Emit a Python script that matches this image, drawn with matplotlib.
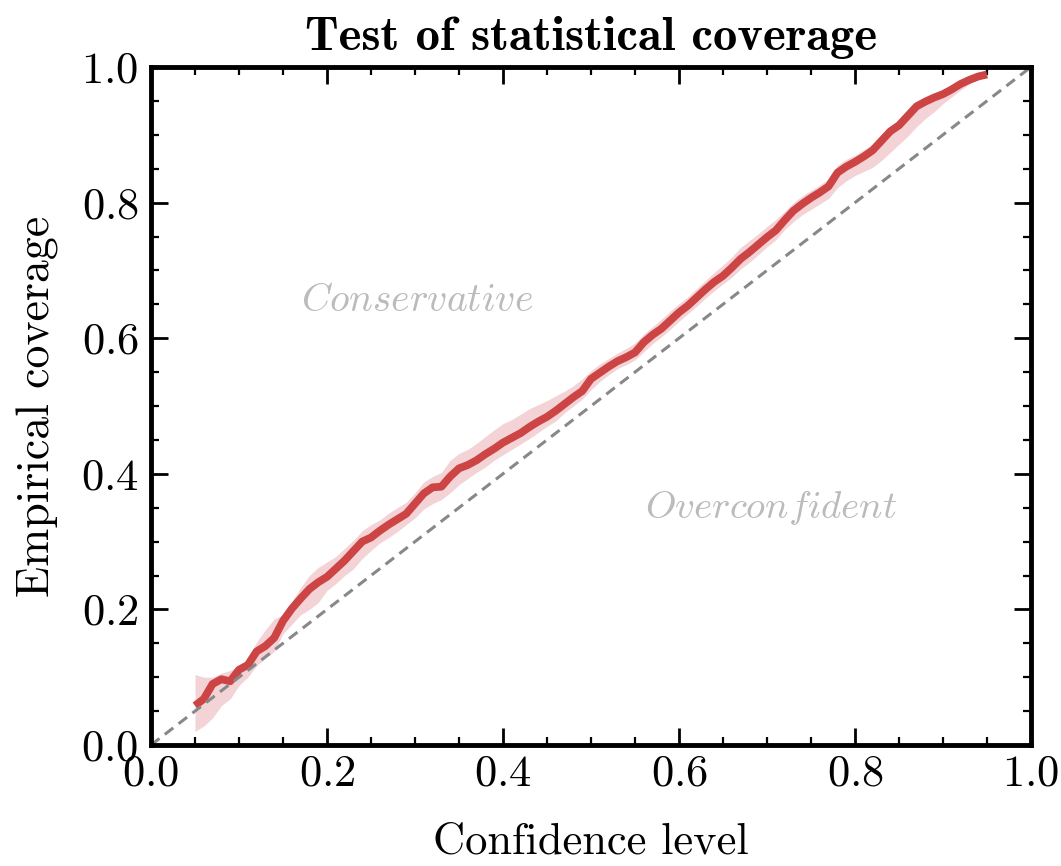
import numpy as np
import matplotlib
matplotlib.use("Agg")
import matplotlib.pyplot as plt
from matplotlib.ticker import MultipleLocator

# ---- data ----
confidence = np.round(np.arange(0.05, 0.951, 0.01), 2)
coverage_mean = [
    0.058, 0.068, 0.090, 0.097, 0.094, 0.111, 0.118, 0.138, 0.146, 0.158,
    0.183, 0.201, 0.216, 0.230, 0.240, 0.248, 0.260, 0.272, 0.286, 0.300,
    0.306, 0.316, 0.325, 0.333, 0.341, 0.356, 0.371, 0.380, 0.381, 0.396,
    0.408, 0.413, 0.420, 0.429, 0.437, 0.446, 0.453, 0.460, 0.469, 0.477,
    0.484, 0.493, 0.503, 0.513, 0.522, 0.540, 0.549, 0.558, 0.566, 0.572,
    0.579, 0.594, 0.605, 0.614, 0.626, 0.638, 0.648, 0.660, 0.672, 0.683,
    0.692, 0.704, 0.717, 0.727, 0.738, 0.749, 0.759, 0.774, 0.788, 0.798,
    0.807, 0.815, 0.824, 0.844, 0.853, 0.860, 0.868, 0.877, 0.891, 0.905,
    0.914, 0.928, 0.942, 0.949, 0.955, 0.960, 0.967, 0.975, 0.981, 0.986,
    0.989,
]
coverage_lower = [
    0.020, 0.028, 0.040, 0.058, 0.068, 0.088, 0.100, 0.117, 0.128, 0.138,
    0.164, 0.178, 0.192, 0.200, 0.210, 0.228, 0.238, 0.250, 0.260, 0.275,
    0.287, 0.298, 0.306, 0.315, 0.325, 0.335, 0.348, 0.356, 0.362, 0.372,
    0.384, 0.393, 0.402, 0.410, 0.420, 0.428, 0.436, 0.444, 0.452, 0.461,
    0.470, 0.478, 0.490, 0.500, 0.510, 0.524, 0.536, 0.546, 0.555, 0.561,
    0.568, 0.580, 0.592, 0.602, 0.613, 0.625, 0.636, 0.647, 0.659, 0.670,
    0.680, 0.690, 0.702, 0.712, 0.723, 0.735, 0.745, 0.760, 0.772, 0.782,
    0.790, 0.798, 0.806, 0.822, 0.832, 0.840, 0.846, 0.852, 0.862, 0.874,
    0.886, 0.898, 0.912, 0.924, 0.934, 0.946, 0.956, 0.966, 0.975, 0.982,
    0.987,
]
coverage_upper = [
    0.104, 0.100, 0.100, 0.106, 0.110, 0.116, 0.128, 0.152, 0.170, 0.186,
    0.192, 0.212, 0.232, 0.250, 0.262, 0.270, 0.278, 0.290, 0.302, 0.316,
    0.325, 0.332, 0.342, 0.350, 0.358, 0.372, 0.388, 0.396, 0.402, 0.420,
    0.430, 0.436, 0.445, 0.455, 0.465, 0.474, 0.480, 0.488, 0.496, 0.502,
    0.508, 0.515, 0.522, 0.530, 0.540, 0.552, 0.562, 0.570, 0.578, 0.585,
    0.593, 0.606, 0.617, 0.628, 0.640, 0.651, 0.661, 0.673, 0.685, 0.697,
    0.708, 0.720, 0.734, 0.744, 0.754, 0.765, 0.775, 0.787, 0.800, 0.810,
    0.818, 0.826, 0.835, 0.855, 0.864, 0.870, 0.878, 0.886, 0.898, 0.912,
    0.920, 0.934, 0.946, 0.953, 0.959, 0.964, 0.971, 0.978, 0.984, 0.988,
    0.991,
]
diag = [0.0, 1.0]

# ---- style ----
plt.rcParams.update({
    "font.family": "serif",
    "font.serif": ["cmr10"],
    "mathtext.fontset": "cm",
    "axes.unicode_minus": False,
    "axes.formatter.use_mathtext": True,
})

fig = plt.figure(figsize=(10.61, 8.66), dpi=100)
ax = fig.add_axes([151/1061, 1 - 745/866, (1031-151)/1061, (745-67)/866])

red = "#cc4444"
ax.fill_between(confidence, coverage_lower, coverage_upper, color="#d04a55",
                alpha=0.24, linewidth=0)
ax.plot(confidence, coverage_mean, color=red, lw=5.6, solid_capstyle="butt")
ax.plot(diag, diag, color="#888888", lw=2.2, ls=(0, (3.5, 2.2)))

ax.text(0.302, 0.655, r"$Conservative$", color="#bbbbbb", fontsize=28.5,
        ha="center", va="center")
ax.text(0.705, 0.35, r"$Overconfident$", color="#bbbbbb", fontsize=28,
        ha="center", va="center")

ax.set_xlim(0, 1)
ax.set_ylim(0, 1)
ax.xaxis.set_major_locator(MultipleLocator(0.2))
ax.yaxis.set_major_locator(MultipleLocator(0.2))
ax.xaxis.set_minor_locator(MultipleLocator(0.05))
ax.yaxis.set_minor_locator(MultipleLocator(0.05))
ax.tick_params(which="both", direction="in", top=True, right=True,
               labelsize=32)
ax.tick_params(which="major", length=12, width=2)
ax.tick_params(which="minor", length=6, width=1.6)
ax.tick_params(axis="x", pad=7)
ax.tick_params(axis="y", pad=9)
for s in ax.spines.values():
    s.set_linewidth(3.5)

ax.set_xlabel("Confidence level", fontsize=32, labelpad=20)
ax.set_ylabel("Empirical coverage", fontsize=33, labelpad=16)
ax.set_title("Test of statistical coverage", fontsize=35, fontfamily="cmb10",
             pad=12)

fig.savefig("out.png", dpi=100)
